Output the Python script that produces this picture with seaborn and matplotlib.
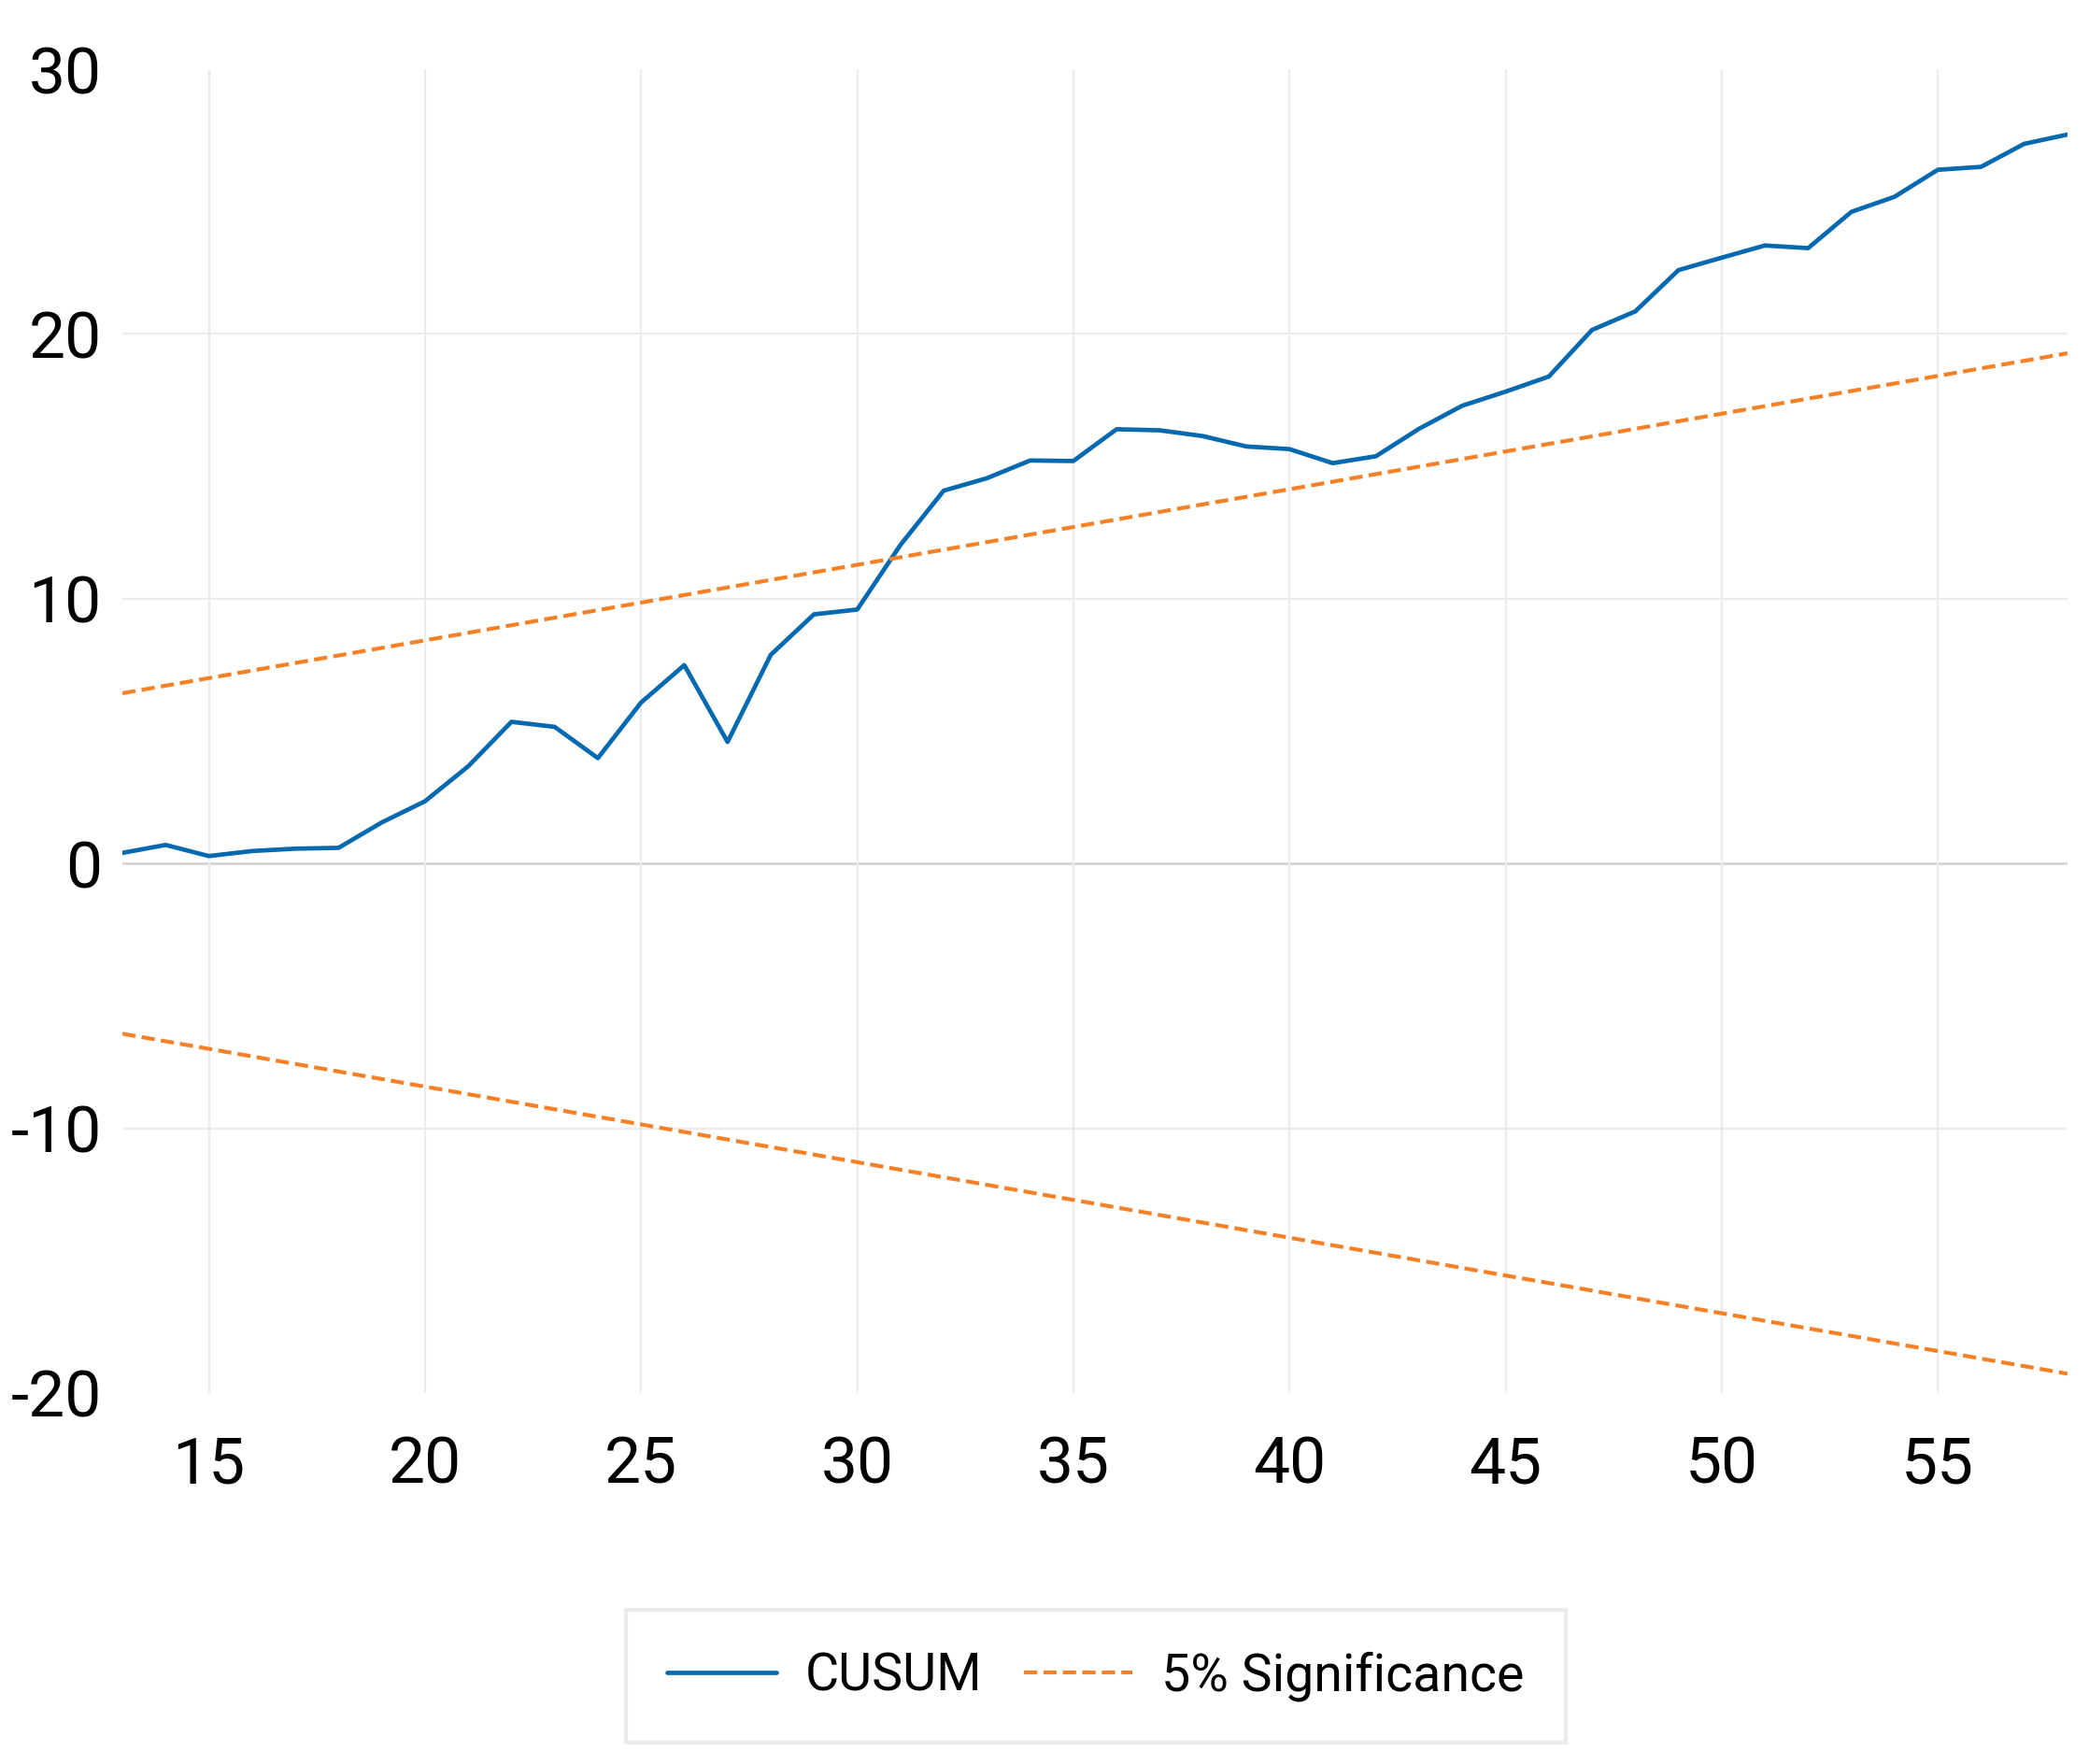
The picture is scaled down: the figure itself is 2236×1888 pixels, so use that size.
import pandas as pd
import matplotlib.pyplot as plt
import seaborn as sns

# CUSUM recursive residual test
obs = list(range(13, 59))
cusum = [0.40, 0.70, 0.28, 0.47, 0.56, 0.59, 1.55, 2.35, 3.67, 5.35,
         5.16, 3.98, 6.08, 7.49, 4.59, 7.88, 9.41, 9.59, 12.03, 14.08,
         14.55, 15.22, 15.20, 16.40, 16.36, 16.14, 15.75, 15.65, 15.12, 15.38,
         16.42, 17.29, 17.82, 18.39, 20.15, 20.85, 22.41, 22.88, 23.34, 23.24,
         24.61, 25.18, 26.20, 26.31, 27.18, 27.53]

# 5% significance bands (straight lines, endpoints)
band_x = [13, 58]
band_upper = [6.43, 19.27]
band_lower = [-6.43, -19.27]

y_ticks = [-20, -10, 0, 10, 20, 30]
x_ticks = [15, 20, 25, 30, 35, 40, 45, 50, 55]

cusum_df = pd.DataFrame({'obs': obs, 'value': cusum})
band_df = pd.DataFrame({'obs': band_x, 'upper': band_upper, 'lower': band_lower})

sns.set_theme(style="white")
plt.rcParams['font.family'] = ['Roboto', 'DejaVu Sans']
plt.rcParams['axes.unicode_minus'] = False

blue = '#0569b0'
orange = '#f58025'
dash = (0, (3.4, 1.6))

fig = plt.figure(figsize=(11.18, 9.44), dpi=200)
ax = fig.add_axes([0.0586, 0.2103, 0.9311, 0.7505])

sns.lineplot(data=cusum_df, x='obs', y='value', ax=ax, color=blue, lw=1.7, label='CUSUM')
sns.lineplot(data=band_df, x='obs', y='upper', ax=ax, color=orange, lw=1.5,
             linestyle=dash, label='5% Significance')
sns.lineplot(data=band_df, x='obs', y='lower', ax=ax, color=orange, lw=1.5,
             linestyle=dash, label='_nolegend_')

ax.set_xlim(13, 58)
ax.set_ylim(-20, 30)
ax.set_xticks(x_ticks)
ax.set_yticks(y_ticks)
ax.tick_params(axis='both', labelsize=25, colors='black', length=0)
ax.tick_params(axis='y', pad=8)
ax.tick_params(axis='x', pad=16)
ax.set_xlabel('')
ax.set_ylabel('')

# light grid, darker zero line
for v in [-10, 10, 20]:
    ax.axhline(v, color='#ececec', lw=0.8, zorder=0)
ax.axhline(0, color='#d4d4d4', lw=1.0, zorder=0)
for v in x_ticks:
    ax.axvline(v, color='#ececec', lw=0.8, zorder=0)

for s in ax.spines.values():
    s.set_visible(False)

handles, labels = ax.get_legend_handles_labels()
ax.get_legend().remove()
leg = fig.legend(handles, labels, loc='center', bbox_to_anchor=(0.5245, 0.0498),
                 ncol=2, fontsize=20, frameon=True, fancybox=False,
                 handlelength=2.1, columnspacing=0.8, handletextpad=0.55,
                 borderpad=0.8, borderaxespad=0)
leg.get_frame().set_edgecolor('#e6e6e6')
leg.get_frame().set_linewidth(1.5)
for t in leg.get_texts():
    t.set_color('black')

fig.savefig('out.png', dpi=200, facecolor='white')
